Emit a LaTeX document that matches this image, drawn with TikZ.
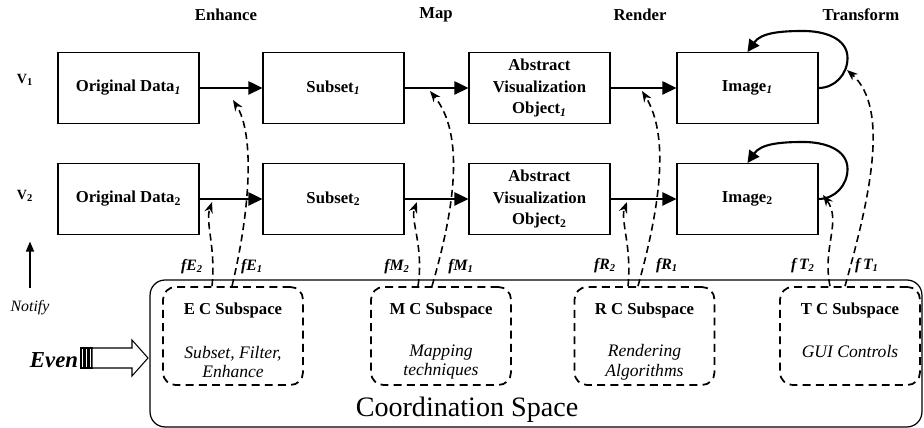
\documentclass[tikz,border=0pt]{standalone}
\usepackage{fontspec}
\setmainfont{Liberation Serif}
\usetikzlibrary{arrows.meta,calc}

\newcommand{\isub}[1]{\textsubscript{\textit{#1}}}

\begin{document}
\begin{tikzpicture}[x=0.02cm,y=0.02cm,
  stage/.style={draw,line width=0.6pt,minimum width=2.82cm,minimum height=1.42cm,inner sep=1pt,align=center,font=\fontsize{9.5}{12.5}\selectfont\bfseries},
  flow/.style={line width=1.4pt,-{Triangle[length=0.28cm,width=0.26cm]}},
  phase/.style={font=\fontsize{9.5}{11}\selectfont\bfseries},
  vlab/.style={font=\fontsize{8}{10}\selectfont\bfseries},
  subsp/.style={draw,dash pattern=on 4.5pt off 3pt,line width=1pt,rounded corners=0.25cm,minimum width=2.8cm,minimum height=1.96cm},
  sptitle/.style={font=\fontsize{9.5}{11}\selectfont\bfseries},
  spnote/.style={align=center,font=\fontsize{10}{11.3}\selectfont\itshape},
  fdash/.style={dash pattern=on 4pt off 2.5pt,line width=0.9pt,-{Stealth[length=0.22cm,width=0.17cm]}},
  flab/.style={font=\fontsize{9}{10}\selectfont\bfseries\itshape},
  loopy/.style={line width=1.2pt,-{Triangle[length=0.24cm,width=0.24cm]}}
]
\useasboundingbox (0,0) rectangle (924,428);

\node[phase] (enh) at (226,413) {Enhance};
\node[phase] (map) at (436,413) {Map};
\node[phase] (ren) at (640,413) {Render};
\node[phase] (trf) at (861,413) {Transform};

\node[vlab] (v1) at (25,348) {V\textsubscript{1}};
\node[vlab] (v2) at (25,232) {V\textsubscript{2}};

\node[stage] (od1) at (128.5,340) {Original Data\isub{1}};
\node[stage] (sub1) at (333.5,340) {Subset\isub{1}};
\node[stage] (avo1) at (539.5,340) {Abstract\\Visualization\\Object\isub{1}};
\node[stage] (img1) at (747.5,340) {Image\isub{1}};
\node[stage] (od2) at (128.5,229) {Original Data\textsubscript{2}};
\node[stage] (sub2) at (333.5,229) {Subset\textsubscript{2}};
\node[stage] (avo2) at (539.5,229) {Abstract\\Visualization\\Object\textsubscript{2}};
\node[stage] (img2) at (747.5,229) {Image\textsubscript{2}};

\draw[flow] (od1) -- (sub1);
\draw[flow] (sub1) -- (avo1);
\draw[flow] (avo1) -- (img1);
\draw[flow] (od2) -- (sub2);
\draw[flow] (sub2) -- (avo2);
\draw[flow] (avo2) -- (img2);

\draw[loopy] (img1.east) to[out=0,in=-90] ++(29,30) to[out=90,in=0] ++(-44,27) to[out=180,in=55] (img1.north);
\draw[loopy] (img2.east) to[out=0,in=-90] ++(29,30) to[out=90,in=0] ++(-44,27) to[out=180,in=55] (img2.north);

\node[draw,rounded corners=0.3cm,line width=0.7pt,minimum width=15.44cm,minimum height=2.94cm] (cspace) at (536,74.5) {};
\node[font=\fontsize{16}{18}\selectfont] (cslab) at (467,18) {Coordination Space};

\node[subsp] (ecs) at (233,92) {};
\node[subsp] (mcs) at (441,92) {};
\node[subsp] (rcs) at (644.5,92) {};
\node[subsp] (tcs) at (850,92) {};

\node[sptitle] (ect) at (233,118) {E C Subspace};
\node[sptitle] (mct) at (441,118) {M C Subspace};
\node[sptitle] (rct) at (644.5,118) {R C Subspace};
\node[sptitle] (tct) at (850,118) {T C Subspace};
\node[spnote] (ecn) at (233,66) {Subset, Filter,\\Enhance};
\node[spnote] (mcn) at (441,66) {Mapping\\techniques};
\node[spnote] (rcn) at (644.5,66) {Rendering\\Algorithms};
\node[spnote] (tcn) at (850,76) {GUI Controls};

\coordinate (tE1) at (233,328);
\coordinate (tE2) at (212,226);
\coordinate (tM1) at (430,337);
\coordinate (tM2) at (417,226);
\coordinate (tR1) at (642,337);
\coordinate (tR2) at (627,226);
\coordinate (tT1) at (847,358);
\coordinate (tT2) at (823,233);

\draw[fdash] ([xshift=-0.02cm]ecs.north) .. controls +(18,75) and +(22,-35) .. (tE1);
\draw[fdash] ([xshift=-0.42cm]ecs.north) .. controls +(4,39) and +(-7,-21) .. (tE2);
\draw[fdash] ([xshift=-0.18cm]mcs.north) .. controls +(23,79) and +(35,-43) .. (tM1);
\draw[fdash] ([xshift=-0.46cm]mcs.north) .. controls +(6,40) and +(-7,-18) .. (tM2);
\draw[fdash] ([xshift=-0.13cm]rcs.north) .. controls +(22,79) and +(28,-45) .. (tR1);
\draw[fdash] ([xshift=-0.33cm]rcs.north) .. controls +(4,40) and +(-7,-18) .. (tR2);
\draw[fdash] ([xshift=-0.1cm]tcs.north) .. controls +(25,89) and +(43,-38) .. (tT1);
\draw[fdash] ([xshift=-0.4cm]tcs.north) .. controls +(-8,39) and +(19,-26) .. (tT2);

\node[flab] (lE2) at (192,161) {fE\textsubscript{2}};
\node[flab] (lE1) at (252,161) {fE\isub{1}};
\node[flab] (lM2) at (397,161) {fM\textsubscript{2}};
\node[flab] (lM1) at (461,161) {fM\isub{1}};
\node[flab] (lR2) at (605,162) {fR\textsubscript{2}};
\node[flab] (lR1) at (667,162) {fR\isub{1}};
\node[flab] (lT2) at (803,162) {f\,T\textsubscript{2}};
\node[flab] (lT1) at (867,162) {f\,T\isub{1}};

\node[font=\fontsize{9}{10}\selectfont\itshape] (ntf) at (30,120) {Notify};
\draw[line width=0.8pt,-{Triangle[length=0.2cm,width=0.16cm]}] ([yshift=0.14cm]ntf.north) -- ++(0,46);

\node[font=\fontsize{13}{15}\selectfont\bfseries\itshape] (even) at (54,68) {Even};
\draw[line width=0.6pt] (81,60) rectangle (92,80);
\draw[line width=1.2pt] (84.5,60) -- (84.5,80);
\draw[line width=1.2pt] (88.5,60) -- (88.5,80);
\draw[line width=0.6pt,fill=white] (92,60) -- (132,60) -- (132,52) -- (148,70) -- (132,88) -- (132,80) -- (92,80) -- cycle;
\end{tikzpicture}
\end{document}
